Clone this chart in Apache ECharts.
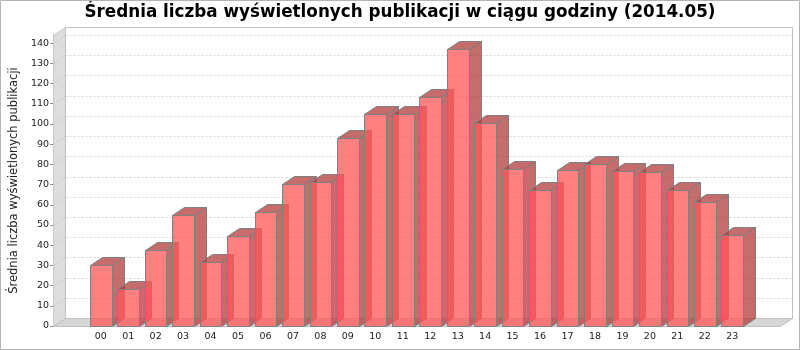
<!DOCTYPE html>
<html><head><meta charset="utf-8">
<script src="https://cdn.jsdelivr.net/npm/echarts@6/dist/echarts.min.js"></script>
<style>html,body{margin:0;padding:0;background:#fff}#c{width:800px;height:350px}</style>
</head><body><div id="c"></div>
<script>
const titleText = 'Średnia liczba wyświetlonych publikacji w ciągu godziny (2014.05)';
const yAxisName = 'Średnia liczba wyświetlonych publikacji';
const hours = ['00','01','02','03','04','05','06','07','08','09','10','11','12','13','14','15','16','17','18','19','20','21','22','23'];
const values = [30, 18.1, 37.4, 54.7, 31.5, 44.3, 56.3, 70.5, 71.5, 92.8, 105.1, 105.1, 113.5, 137.2, 100.7, 77.9, 67.5, 77.4, 80.4, 76.9, 76.4, 67.2, 61.6, 44.8];
const yTicks = [0,10,20,30,40,50,60,70,80,90,100,110,120,130,140];
const yMax = 144;

const DX = 12, DY = 8;
const GRID_TOP = 35, GRID_BOTTOM = 24;

function renderFrame(params, api) {
  const cs = params.coordSys;
  const L = Math.round(cs.x) + 0.5, R = Math.round(cs.x + cs.width) + 0.5;
  const T = Math.round(cs.y) + 0.5, B = Math.round(cs.y + cs.height) + 0.5;
  const ch = [];
  ch.push({type:'polygon', shape:{points:[[L,T],[L+DX,T-DY],[L+DX,B-DY],[L,B]]}, style:{fill:'#dddddd', stroke:'#c8c8c8', lineWidth:1}});
  ch.push({type:'polygon', shape:{points:[[L,B],[L+DX,B-DY],[R+DX,B-DY],[R,B]]}, style:{fill:'#d6d6d6', stroke:'#c0c0c0', lineWidth:1}});
  yTicks.forEach(function (v) {
    if (v === 0) return;
    const y = Math.round(api.coord([0, v])[1]) + 0.5;
    ch.push({type:'polyline', shape:{points:[[L,y],[L+DX,y-DY]]}, style:{stroke:'#c8c8c8', lineDash:[2,2], fill:null, lineWidth:1}});
    ch.push({type:'line', shape:{x1:L+DX, y1:y-DY, x2:R+DX, y2:y-DY}, style:{stroke:'#d4d4d4', lineDash:[2,2], lineWidth:1}});
  });
  ch.push({type:'polyline', shape:{points:[[L+DX,B-DY],[L+DX,T-DY],[R+DX,T-DY],[R+DX,B-DY]]}, style:{fill:null, stroke:'#c0c0c0', lineWidth:1}});
  return {type:'group', children: ch};
}

function renderBar(params, api) {
  const idx = api.value(0), v = api.value(1);
  const p = api.coord([idx, v]);
  const b = api.coord([idx, 0]);
  const bw = api.size([1, 0])[0] * 0.79;
  const x0 = Math.round(p[0] - bw / 2) + 0.5, x1 = Math.round(p[0] + bw / 2) + 0.5;
  const yT = Math.round(p[1]) + 0.5, yB = Math.round(b[1]) + 0.5;
  const edge = {stroke:'#808080', lineWidth:1};
  const dark = 'rgba(178,59,59,0.75)';
  return {type:'group', children:[
    {type:'rect', shape:{x:x0, y:yT, width:x1-x0, height:yB-yT}, style:Object.assign({fill:'rgba(255,85,85,0.75)'}, edge)},
    {type:'polygon', shape:{points:[[x1,yT],[x1+DX,yT-DY],[x1+DX,yB-DY],[x1,yB]]}, style:Object.assign({fill:dark}, edge)},
    {type:'polygon', shape:{points:[[x0,yT],[x0+DX,yT-DY],[x1+DX,yT-DY],[x1,yT]]}, style:Object.assign({fill:dark}, edge)}
  ]};
}

const chart = echarts.init(document.getElementById('c'));
chart.setOption({
  animation: false,
  backgroundColor: '#fff',
  title: {text: titleText, left: 'center', top: 4, padding: 0,
    textStyle: {fontFamily: 'DejaVu Sans', fontWeight: 'bold', fontSize: 16.8, color: '#000'}},
  graphic: [{type:'rect', shape:{x:0.5, y:0.5, width:799, height:349}, style:{fill:null, stroke:'#b4b4b4', lineWidth:1}, silent:true, z:100}],
  grid: [
    {left: 87, right: 54, top: GRID_TOP, bottom: GRID_BOTTOM},
    {left: 53, right: 20, top: GRID_TOP, bottom: GRID_BOTTOM}
  ],
  xAxis: [
    {type:'category', gridIndex:0, data: hours, axisLine:{show:false}, axisTick:{show:false},
     axisLabel:{interval:0, margin:6, fontFamily:'DejaVu Sans', fontSize:9.5, color:'#222'}},
    {type:'value', gridIndex:1, min:0, max:1, show:false}
  ],
  yAxis: [
    {type:'value', gridIndex:0, min:0, max:yMax, show:false},
    {type:'value', gridIndex:1, min:0, max:yMax,
     name: yAxisName, nameLocation:'middle', nameGap:33, nameRotate:90,
     nameTextStyle:{fontFamily:'DejaVu Sans', fontSize:11.5, color:'#222'},
     axisLine:{show:true, lineStyle:{color:'#8c8c8c'}},
     axisTick:{show:true, length:3, customValues: yTicks, lineStyle:{color:'#8c8c8c'}},
     axisLabel:{customValues: yTicks, margin:4, fontFamily:'DejaVu Sans', fontSize:9.5, color:'#222'},
     splitLine:{show:false}}
  ],
  series: [
    {type:'custom', xAxisIndex:1, yAxisIndex:1, data:[[0.5, 0]], renderItem: renderFrame, z:1, silent:true},
    {type:'custom', xAxisIndex:0, yAxisIndex:0, data: values.map(function (v, i) { return [i, v]; }), renderItem: renderBar, z:2}
  ]
});
</script></body></html>
